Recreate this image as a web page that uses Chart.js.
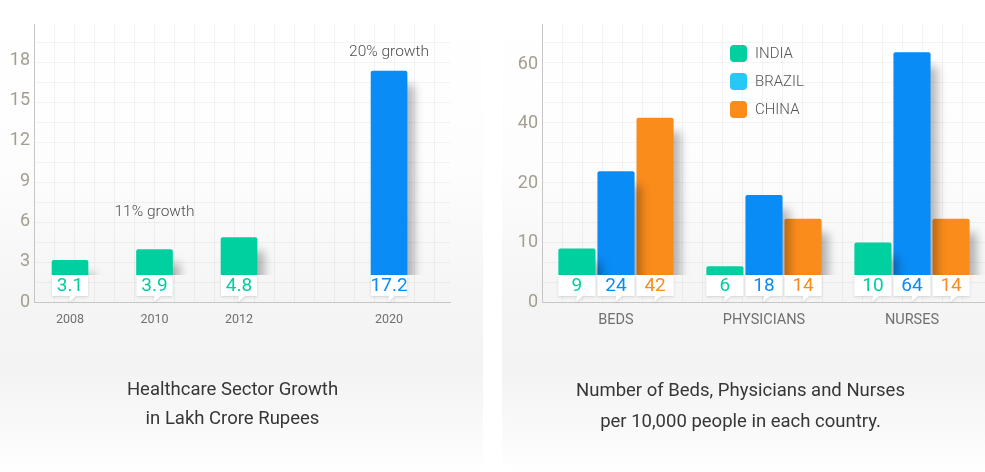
<!DOCTYPE html>
<html>
<head>
<meta charset="utf-8">
<script src="https://cdn.jsdelivr.net/npm/chart.js@4.4.1/dist/chart.umd.min.js"></script>
<style>
  body { margin: 0; width: 985px; height: 472px; overflow: hidden; background: #fff; position: relative; font-family: Roboto, sans-serif; }
  .panel { position: absolute; top: 0; width: 483px; height: 472px;
    background: linear-gradient(to bottom, #ffffff 0%, #fdfdfd 35%, #f5f5f5 62%, #f3f3f3 78%, #fafafa 92%, #ffffff 100%); }
  #panelLeft { left: 0; }
  #panelRight { left: 502px; }
  canvas { position: absolute; top: 0; }
  #growthChart { left: 0; }
  #staffChart { left: 502px; }
  .caption { position: absolute; top: 375px; text-align: center; font-size: 18.5px; line-height: 29px; color: #363636; }
  #captionLeft { left: 0; width: 465px; }
  #captionRight { left: 502px; width: 477px; line-height: 31px; }
</style>
</head>
<body>
<div class="panel" id="panelLeft"></div>
<div class="panel" id="panelRight"></div>
<canvas id="growthChart" width="483" height="472"></canvas>
<canvas id="staffChart" width="484" height="472"></canvas>
<div class="caption" id="captionLeft">Healthcare Sector Growth<br>in Lakh Crore Rupees</div>
<div class="caption" id="captionRight">Number of Beds, Physicians and Nurses<br>per 10,000 people in each country.</div>
<script>
// left chart data
var years = [2008, 2010, 2012, 2020];
var sectorSize = [3.1, 3.9, 4.8, 17.2];
var yearColors = ["#00cf9f", "#00cf9f", "#00cf9f", "#0a8cf6"];
var leftTicks = [0, 3, 6, 9, 12, 15, 18];
var growthNotes = ["11% growth", "20% growth"];
var noteYears = [2010, 2020];
var noteValues = [6.7, 18.6];

// right chart data
var staffCategories = ["BEDS", "PHYSICIANS", "NURSES"];
var countries = ["INDIA", "BRAZIL", "CHINA"];
var india = [9, 6, 10];
var brazil = [24, 18, 64];
var china = [42, 14, 14];
var rightTicks = [0, 10, 20, 40, 60];

var countryColors = ["#00cf9f", "#0a8cf6", "#fa8c1c"];
var legendColors = ["#00cf9f", "#27c8f6", "#fa8c1c"];

// linear scale with a broken (piecewise) axis
function brokenScale(id, breaks) {
  function toUnit(v) {
    var i = 1;
    while (i < breaks.length - 1 && v > breaks[i][0]) i++;
    var a = breaks[i - 1], c = breaks[i];
    return a[1] + (v - a[0]) * (c[1] - a[1]) / (c[0] - a[0]);
  }
  function fromUnit(u) {
    var i = 1;
    while (i < breaks.length - 1 && u > breaks[i][1]) i++;
    var a = breaks[i - 1], c = breaks[i];
    return a[0] + (u - a[1]) * (c[0] - a[0]) / (c[1] - a[1]);
  }
  class S extends Chart.LinearScale {
    getPixelForValue(v) {
      if (v === null || v === undefined || isNaN(v)) return NaN;
      var lo = toUnit(this.min), hi = toUnit(this.max);
      return this.getPixelForDecimal((toUnit(v) - lo) / (hi - lo));
    }
    getValueForPixel(p) {
      var lo = toUnit(this.min), hi = toUnit(this.max);
      return fromUnit(lo + this.getDecimalForPixel(p) * (hi - lo));
    }
  }
  S.id = id;
  S.defaults = Chart.LinearScale.defaults;
  Chart.register(S);
}
brokenScale("yearBreak", [[2000, -4], [2012, 2], [2030, 5.994]]);
brokenScale("valueBreak", [[0, 0], [20, 2], [80, 5]]);

// faint paper grid behind the bars
function drawPaperGrid(chart) {
  var ctx = chart.ctx, a = chart.chartArea;
  ctx.save();
  ctx.strokeStyle = "rgba(0,0,0,0.045)";
  ctx.lineWidth = 1;
  ctx.beginPath();
  for (var x = a.left + 20; x < a.right - 4; x += 20) {
    ctx.moveTo(Math.round(x) + 0.5, a.top);
    ctx.lineTo(Math.round(x) + 0.5, a.bottom);
  }
  for (var y = a.bottom - 20; y > a.top; y -= 20) {
    ctx.moveTo(a.left, Math.round(y) + 0.5);
    ctx.lineTo(a.right, Math.round(y) + 0.5);
  }
  ctx.stroke();
  ctx.restore();
}

// bars end above the value box, with a soft shadow; value boxes drawn after
var valueBoxes = {
  id: "valueBoxes",
  beforeDraw: function (chart) {
    drawPaperGrid(chart);
  },
  beforeDatasetsDraw: function (chart) {
    var ctx = chart.ctx, a = chart.chartArea;
    ctx.save();
    ctx.beginPath();
    ctx.rect(a.left, 0, a.right - a.left + 30, a.bottom - 27);
    ctx.clip();
    ctx.shadowColor = "rgba(0,0,0,0.28)";
    ctx.shadowBlur = 10;
    ctx.shadowOffsetX = 7;
    ctx.shadowOffsetY = 14;
  },
  afterDatasetsDraw: function (chart) {
    var ctx = chart.ctx, a = chart.chartArea;
    ctx.restore();
    chart.data.datasets.forEach(function (ds, d) {
      chart.getDatasetMeta(d).data.forEach(function (bar, i) {
        var color = Array.isArray(ds.backgroundColor) ? ds.backgroundColor[i] : ds.backgroundColor;
        var left = bar.x - bar.width / 2, right = bar.x + bar.width / 2;
        var top = a.bottom - 27, bottom = a.bottom - 6;
        ctx.save();
        ctx.shadowColor = "rgba(0,0,0,0.14)";
        ctx.shadowBlur = 3;
        ctx.shadowOffsetY = 1;
        ctx.fillStyle = "#ffffff";
        ctx.beginPath();
        ctx.moveTo(left, top);
        ctx.lineTo(right, top);
        ctx.lineTo(right, bottom);
        ctx.lineTo(bar.x + 6, bottom);
        ctx.lineTo(bar.x - 1, bottom + 6);
        ctx.lineTo(bar.x, bottom);
        ctx.lineTo(left, bottom);
        ctx.closePath();
        ctx.fill();
        ctx.restore();
        ctx.save();
        ctx.fillStyle = color;
        ctx.font = "19px Roboto";
        ctx.textAlign = "center";
        ctx.textBaseline = "middle";
        ctx.fillText(String(ds.data[i]), bar.x, (top + bottom) / 2 + 1);
        ctx.restore();
      });
    });
  }
};

// growth notes on the left chart
var notesPlugin = {
  id: "notes",
  afterDraw: function (chart) {
    var ctx = chart.ctx, xs = chart.scales.x, ys = chart.scales.y;
    ctx.save();
    ctx.font = "300 15.5px Roboto";
    ctx.fillStyle = "#4f4f4f";
    ctx.textAlign = "center";
    ctx.textBaseline = "middle";
    growthNotes.forEach(function (t, i) {
      ctx.fillText(t, xs.getPixelForValue(noteYears[i]), ys.getPixelForValue(noteValues[i]));
    });
    ctx.restore();
  }
};

// legend inside the right chart
var legendPlugin = {
  id: "countryLegend",
  afterDraw: function (chart) {
    var ctx = chart.ctx, a = chart.chartArea;
    ctx.save();
    chart.data.datasets.forEach(function (ds, i) {
      var y = a.top + 21 + i * 28;
      ctx.fillStyle = legendColors[i];
      ctx.beginPath();
      ctx.roundRect(a.left + 188, y, 17, 17, 4);
      ctx.fill();
      ctx.fillStyle = "#555555";
      ctx.font = "300 15px Roboto";
      ctx.textAlign = "left";
      ctx.textBaseline = "middle";
      ctx.fillText(ds.label, a.left + 213, y + 9);
    });
    ctx.restore();
  }
};

var axisBorder = { display: true, color: "#c6c6c6", width: 1 };
var yTickFont = { family: "Roboto", size: 18 };

new Chart("growthChart", {
  type: "bar",
  data: {
    labels: years,
    datasets: [
      {
        data: sectorSize,
        backgroundColor: yearColors,
        borderRadius: 2,
        barThickness: 36,
      },
    ],
  },
  options: {
    responsive: false,
    animation: false,
    layout: { padding: { top: 24, right: 33, left: 0, bottom: 0 } },
    plugins: { legend: { display: false }, tooltip: { enabled: false } },
    scales: {
      x: {
        type: "yearBreak",
        min: 2007.148,
        max: 2023.25,
        offset: false,
        afterBuildTicks: function (s) {
          s.ticks = years.map(function (v) { return { value: v }; });
        },
        afterFit: function (s) { s.height = 170; },
        grid: { display: false, drawTicks: false },
        border: axisBorder,
        ticks: {
          autoSkip: false,
          maxRotation: 0,
          padding: 10,
          color: "#707070",
          font: { family: "Roboto", size: 12.5 },
          callback: function (v) { return String(v); },
        },
      },
      y: {
        min: 0,
        max: 20.7,
        afterBuildTicks: function (s) {
          s.ticks = leftTicks.map(function (v) { return { value: v }; });
        },
        afterFit: function (s) { s.width = 34; },
        grid: { display: false, drawTicks: false },
        border: axisBorder,
        ticks: { padding: 4, color: "#a39e91", font: yTickFont },
      },
    },
  },
  plugins: [valueBoxes, notesPlugin],
});

new Chart("staffChart", {
  type: "bar",
  data: {
    labels: staffCategories,
    datasets: [india, brazil, china].map(function (vals, i) {
      return {
        label: countries[i],
        data: vals,
        backgroundColor: countryColors[i],
        borderRadius: 2,
        categoryPercentage: 0.792,
        barPercentage: 0.95,
      };
    }),
  },
  options: {
    responsive: false,
    animation: false,
    layout: { padding: { top: 24, right: 0, left: 0, bottom: 0 } },
    plugins: { legend: { display: false }, tooltip: { enabled: false } },
    scales: {
      x: {
        afterFit: function (s) { s.height = 170; },
        grid: { display: false, drawTicks: false },
        border: axisBorder,
        ticks: {
          maxRotation: 0,
          padding: 10,
          color: "#707070",
          font: { family: "Roboto", size: 14.5 },
        },
      },
      y: {
        type: "valueBreak",
        min: 0,
        max: 73.5,
        afterBuildTicks: function (s) {
          s.ticks = rightTicks.map(function (v) { return { value: v }; });
        },
        afterFit: function (s) { s.width = 40; },
        grid: { display: false, drawTicks: false },
        border: axisBorder,
        ticks: { padding: 4, color: "#a39e91", font: yTickFont, callback: function (v) { return String(v); } },
      },
    },
  },
  plugins: [valueBoxes, legendPlugin],
});
</script>
</body>
</html>
